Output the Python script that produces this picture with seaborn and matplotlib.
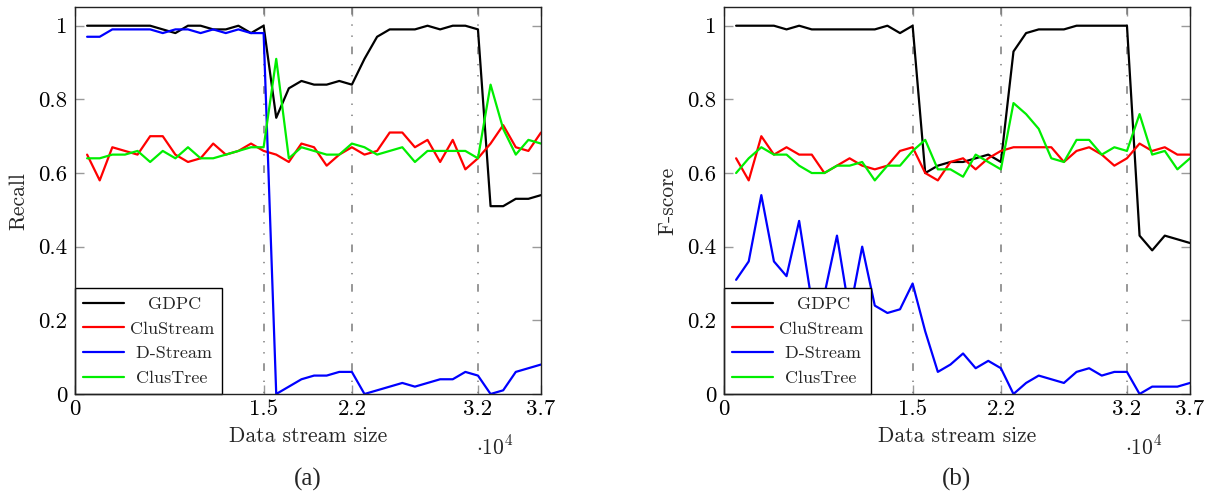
import matplotlib
matplotlib.use("Agg")
import matplotlib.pyplot as plt
from matplotlib.lines import Line2D
import numpy as np
import pandas as pd
import seaborn as sns

# ---------------- data ----------------
sizes = [1000, 2000, 3000, 4000, 5000, 6000, 7000, 8000, 9000, 10000,
         11000, 12000, 13000, 14000, 15000, 16000, 17000, 18000, 19000, 20000,
         21000, 22000, 23000, 24000, 25000, 26000, 27000, 28000, 29000, 30000,
         31000, 32000, 33000, 34000, 35000, 36000, 37000]

methods = ["GDPC", "CluStream", "D-Stream", "ClusTree"]
colors = ["#000000", "#ff0000", "#0000ff", "#00ee00"]

gdpc_recall = [1.0, 1.0, 1.0, 1.0, 1.0, 1.0, 0.99, 0.98, 1.0, 1.0, 0.99, 0.99, 1.0, 0.98, 1.0,
               0.75, 0.83, 0.85, 0.84, 0.84, 0.85, 0.84, 0.91, 0.97, 0.99, 0.99, 0.99, 1.0, 0.99,
               1.0, 1.0, 0.99, 0.51, 0.51, 0.53, 0.53, 0.54]
clustream_recall = [0.65, 0.58, 0.67, 0.66, 0.65, 0.70, 0.70, 0.65, 0.63, 0.64, 0.68, 0.65, 0.66,
                    0.68, 0.66, 0.65, 0.63, 0.68, 0.67, 0.62, 0.65, 0.67, 0.65, 0.66, 0.71, 0.71,
                    0.67, 0.69, 0.63, 0.69, 0.61, 0.64, 0.68, 0.73, 0.67, 0.66, 0.71]
dstream_recall = [0.97, 0.97, 0.99, 0.99, 0.99, 0.99, 0.98, 0.99, 0.99, 0.98, 0.99, 0.98, 0.99,
                  0.98, 0.98, 0.0, 0.02, 0.04, 0.05, 0.05, 0.06, 0.06, 0.0, 0.01, 0.02, 0.03,
                  0.02, 0.03, 0.04, 0.04, 0.06, 0.05, 0.0, 0.01, 0.06, 0.07, 0.08]
clustree_recall = [0.64, 0.64, 0.65, 0.65, 0.66, 0.63, 0.66, 0.64, 0.67, 0.64, 0.64, 0.65, 0.66,
                   0.67, 0.67, 0.91, 0.64, 0.67, 0.66, 0.65, 0.65, 0.68, 0.67, 0.65, 0.66, 0.67,
                   0.63, 0.66, 0.66, 0.66, 0.66, 0.64, 0.84, 0.72, 0.65, 0.69, 0.68]

gdpc_f = [1.0, 1.0, 1.0, 1.0, 0.99, 1.0, 0.99, 0.99, 0.99, 0.99, 0.99, 0.99, 1.0, 0.98, 1.0,
          0.60, 0.62, 0.63, 0.63, 0.64, 0.65, 0.63, 0.93, 0.98, 0.99, 0.99, 0.99, 1.0, 1.0,
          1.0, 1.0, 1.0, 0.43, 0.39, 0.43, 0.42, 0.41]
clustream_f = [0.64, 0.58, 0.70, 0.65, 0.67, 0.65, 0.65, 0.60, 0.62, 0.64, 0.62, 0.61, 0.62,
               0.66, 0.67, 0.60, 0.58, 0.63, 0.64, 0.61, 0.64, 0.66, 0.67, 0.67, 0.67, 0.67,
               0.63, 0.66, 0.67, 0.65, 0.62, 0.64, 0.68, 0.66, 0.67, 0.65, 0.65]
dstream_f = [0.31, 0.36, 0.54, 0.36, 0.32, 0.47, 0.25, 0.27, 0.43, 0.22, 0.40, 0.24, 0.22,
             0.23, 0.30, 0.17, 0.06, 0.08, 0.11, 0.07, 0.09, 0.07, 0.0, 0.03, 0.05, 0.04,
             0.03, 0.06, 0.07, 0.05, 0.06, 0.06, 0.0, 0.02, 0.02, 0.02, 0.03]
clustree_f = [0.60, 0.64, 0.67, 0.65, 0.65, 0.62, 0.60, 0.60, 0.62, 0.62, 0.63, 0.58, 0.62,
              0.62, 0.66, 0.69, 0.61, 0.61, 0.59, 0.65, 0.63, 0.61, 0.79, 0.76, 0.72, 0.64,
              0.63, 0.69, 0.69, 0.65, 0.67, 0.66, 0.76, 0.65, 0.66, 0.61, 0.64]

drift_points = [15000, 22000, 32000]
xtick_vals = [0, 15000, 22000, 32000, 37000]
xtick_labels = ["0", "1.5", "2.2", "3.2", "3.7"]
ytick_vals = [0, 0.2, 0.4, 0.6, 0.8, 1.0]
ytick_labels = ["0", "0.2", "0.4", "0.6", "0.8", "1"]
legend_labels = ["   GDPC", "CluStream", " D-Stream", " ClusTree"]

panels = [
    ("Recall", "(a)", [gdpc_recall, clustream_recall, dstream_recall, clustree_recall]),
    ("F-score", "(b)", [gdpc_f, clustream_f, dstream_f, clustree_f]),
]

# ---------------- style ----------------
sns.set_style("ticks")
plt.rcParams["font.family"] = ["cmr10", "DejaVu Serif"]
plt.rcParams["mathtext.fontset"] = "cm"
plt.rcParams["axes.unicode_minus"] = False
plt.rcParams["axes.formatter.use_mathtext"] = True
plt.rcParams["lines.scale_dashes"] = False

fig = plt.figure(figsize=(12.1, 4.95), dpi=100)
axes_rects = [
    [74.5 / 1210, 101 / 495, 466.5 / 1210, 386.7 / 495],
    [723.5 / 1210, 101 / 495, 466.5 / 1210, 386.7 / 495],
]

for rect, (ylab, tag, series) in zip(axes_rects, panels):
    ax = fig.add_axes(rect)
    for xp in drift_points:
        ax.axvline(xp, ymin=1, ymax=0, color="#7a7a7a", lw=1.1,
                   linestyle=(0, (5.5, 7.0, 1.0, 7.0, 1.0, 7.0)), zorder=1)
    handles = []
    for name, col, vals in zip(methods, colors, series):
        df = pd.DataFrame({"size": sizes, "value": vals})
        sns.lineplot(data=df, x="size", y="value", ax=ax, color=col, lw=1.6,
                     estimator=None, sort=False, zorder=3)
        handles.append(Line2D([], [], color=col, lw=1.6))

    ax.set_xlim(0, 37000)
    ax.set_ylim(0, 1.05)
    ax.set_xticks(xtick_vals)
    ax.set_xticklabels(xtick_labels)
    ax.set_yticks(ytick_vals)
    ax.set_yticklabels(ytick_labels)
    ax.tick_params(axis="both", which="major", direction="in", length=6.5, width=1.0,
                   color="#9a9a9a", labelsize=16.5, top=True, right=True, labelcolor="black")
    ax.tick_params(axis="x", pad=4.0)
    ax.tick_params(axis="y", pad=5.0)
    for sp in ax.spines.values():
        sp.set_color("#222222")
        sp.set_linewidth(1.0)
        sp.set_zorder(6)

    ax.set_xlabel("Data stream size", fontsize=15.5)
    ax.xaxis.set_label_coords(0.5, -0.085)
    ax.set_ylabel(ylab, fontsize=15.5)
    ax.yaxis.set_label_coords(-0.098, 0.5)

    ax.text(0.90, -0.135, r"$\cdot 10^4$", transform=ax.transAxes, fontsize=15.5,
            ha="center", va="center")
    ax.text(0.5, -0.22, tag, transform=ax.transAxes, fontsize=18,
            family=["Liberation Serif", "DejaVu Serif"], ha="center", va="center")

    leg = ax.legend(handles, legend_labels, loc="lower left", bbox_to_anchor=(0, 0),
                    borderaxespad=0, fancybox=False, edgecolor="black", framealpha=1,
                    fontsize=13, handlelength=2.3, handletextpad=0.3, borderpad=0.45,
                    labelspacing=0.5)
    leg.get_frame().set_linewidth(1.0)
    leg.set_zorder(5)

fig.savefig("out.png", dpi=100)
